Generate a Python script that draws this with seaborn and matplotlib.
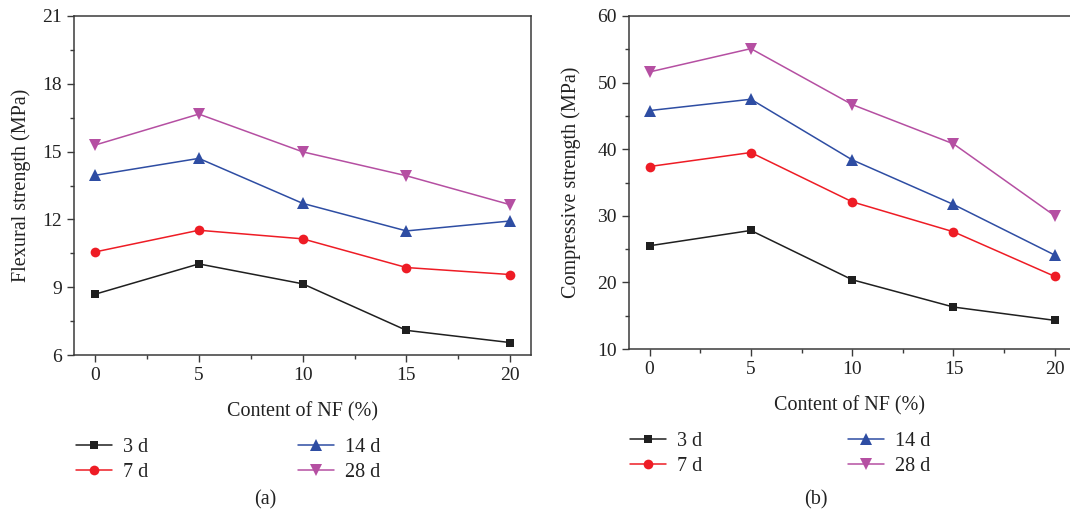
import numpy as np
import pandas as pd
import matplotlib
matplotlib.use("Agg")
import matplotlib.pyplot as plt
from matplotlib.ticker import MultipleLocator
import seaborn as sns

# ---------------- data ----------------
nf_content = [0, 5, 10, 15, 20]
ages = ["3 d", "7 d", "14 d", "28 d"]

flex_3d = [8.69, 10.03, 9.15, 7.09, 6.55]
flex_7d = [10.56, 11.52, 11.14, 9.87, 9.56]
flex_14d = [13.95, 14.70, 12.71, 11.49, 11.93]
flex_28d = [15.29, 16.66, 14.99, 13.93, 12.65]

comp_3d = [25.5, 27.8, 20.4, 16.3, 14.3]
comp_7d = [37.4, 39.5, 32.1, 27.6, 20.9]
comp_14d = [45.8, 47.5, 38.4, 31.7, 24.1]
comp_28d = [51.6, 55.1, 46.7, 40.8, 30.0]

flex_series = [flex_3d, flex_7d, flex_14d, flex_28d]
comp_series = [comp_3d, comp_7d, comp_14d, comp_28d]


def long_form(series):
    rows = []
    for age, vals in zip(ages, series):
        for x, v in zip(nf_content, vals):
            rows.append({"NF": x, "val": v, "age": age})
    return pd.DataFrame(rows)


flex_df = long_form(flex_series)
comp_df = long_form(comp_series)

# ---------------- style ----------------
sns.set_style("ticks")
plt.rcParams["font.family"] = ["Liberation Serif", "DejaVu Serif"]

palette = {"3 d": "#1f1f1f", "7 d": "#ee1c25", "14 d": "#2e4da3", "28 d": "#b54fa2"}
markers = {"3 d": "s", "7 d": "o", "14 d": "^", "28 d": "v"}
msizes = {"3 d": 6.0, "7 d": 7.0, "14 d": 8.0, "28 d": 8.0}
spine_col = "#3a3a3a"

W, H = 1070, 521
fig = plt.figure(figsize=(W / 100, H / 100), dpi=100)


def fx(px):
    return px / W


def fy(py):
    return 1 - py / H


ax1 = fig.add_axes([fx(74.3), fy(355), fx(531) - fx(74.3), fy(16) - fy(355)])
ax2 = fig.add_axes([fx(629.3), fy(349), 1.0 - fx(629.3), fy(16) - fy(349)])


def draw(ax, df, ylim, ymaj, ymin, ylabel, xmax, ylpad):
    sns.lineplot(data=df, x="NF", y="val", hue="age", style="age",
                 palette=palette, markers=markers, dashes=False,
                 hue_order=ages, style_order=ages,
                 linewidth=1.1, markeredgewidth=0, ax=ax, legend=False)
    for line, age in zip(ax.get_lines(), ages):
        line.set_markersize(msizes[age])
    ax.set_xlim(-1, xmax)
    ax.set_ylim(*ylim)
    ax.xaxis.set_major_locator(MultipleLocator(5))
    ax.xaxis.set_minor_locator(MultipleLocator(2.5))
    ax.yaxis.set_major_locator(MultipleLocator(ymaj))
    ax.yaxis.set_minor_locator(MultipleLocator(ymin))
    ax.tick_params(which="major", direction="out", length=5, width=1.0,
                   color=spine_col, labelsize=14, labelcolor="#222222", pad=4)
    ax.tick_params(which="minor", direction="out", length=3, width=1.0, color=spine_col)
    ax.tick_params(top=False, right=False, which="both")
    for s in ax.spines.values():
        s.set_color(spine_col)
        s.set_linewidth(1.1)
        s.set_visible(True)
    ax.set_xlabel("Content of NF (%)", fontsize=14.5, color="#222222", labelpad=13)
    ax.set_ylabel(ylabel, fontsize=14.5, color="#222222", labelpad=ylpad)
    ax.set_facecolor("white")


draw(ax1, flex_df, (6, 21), 3, 1.5, "Flexural strength (MPa)", 21, 8)
draw(ax2, comp_df, (10, 60), 10, 5, "Compressive strength (MPa)", 20.75, 12)
ax2.spines["right"].set_visible(False)


def make_handles(names):
    hs = []
    for a in names:
        hs.append(plt.Line2D([], [], color=palette[a], marker=markers[a],
                             markersize=msizes[a], markeredgewidth=0, linewidth=1.1))
    return hs


def add_leg(names, xpx, ypx):
    leg = fig.legend(make_handles(names), names, loc="upper left",
                     bbox_to_anchor=(fx(xpx), fy(ypx)), frameon=False,
                     fontsize=14.5, handlelength=1.8, handletextpad=0.55,
                     labelspacing=0.28, borderpad=0, borderaxespad=0)
    for t in leg.get_texts():
        t.set_color("#222222")
    return leg


add_leg(["3 d", "7 d"], 76, 438)
add_leg(["14 d", "28 d"], 298, 438)
add_leg(["3 d", "7 d"], 630, 432)
add_leg(["14 d", "28 d"], 847.5, 432)

fig.text(fx(265), fy(500), "(a)", ha="center", va="center", fontsize=14.5, color="#222222")
fig.text(fx(816), fy(500), "(b)", ha="center", va="center", fontsize=14.5, color="#222222")

fig.savefig("out.png", dpi=100, facecolor="white")
